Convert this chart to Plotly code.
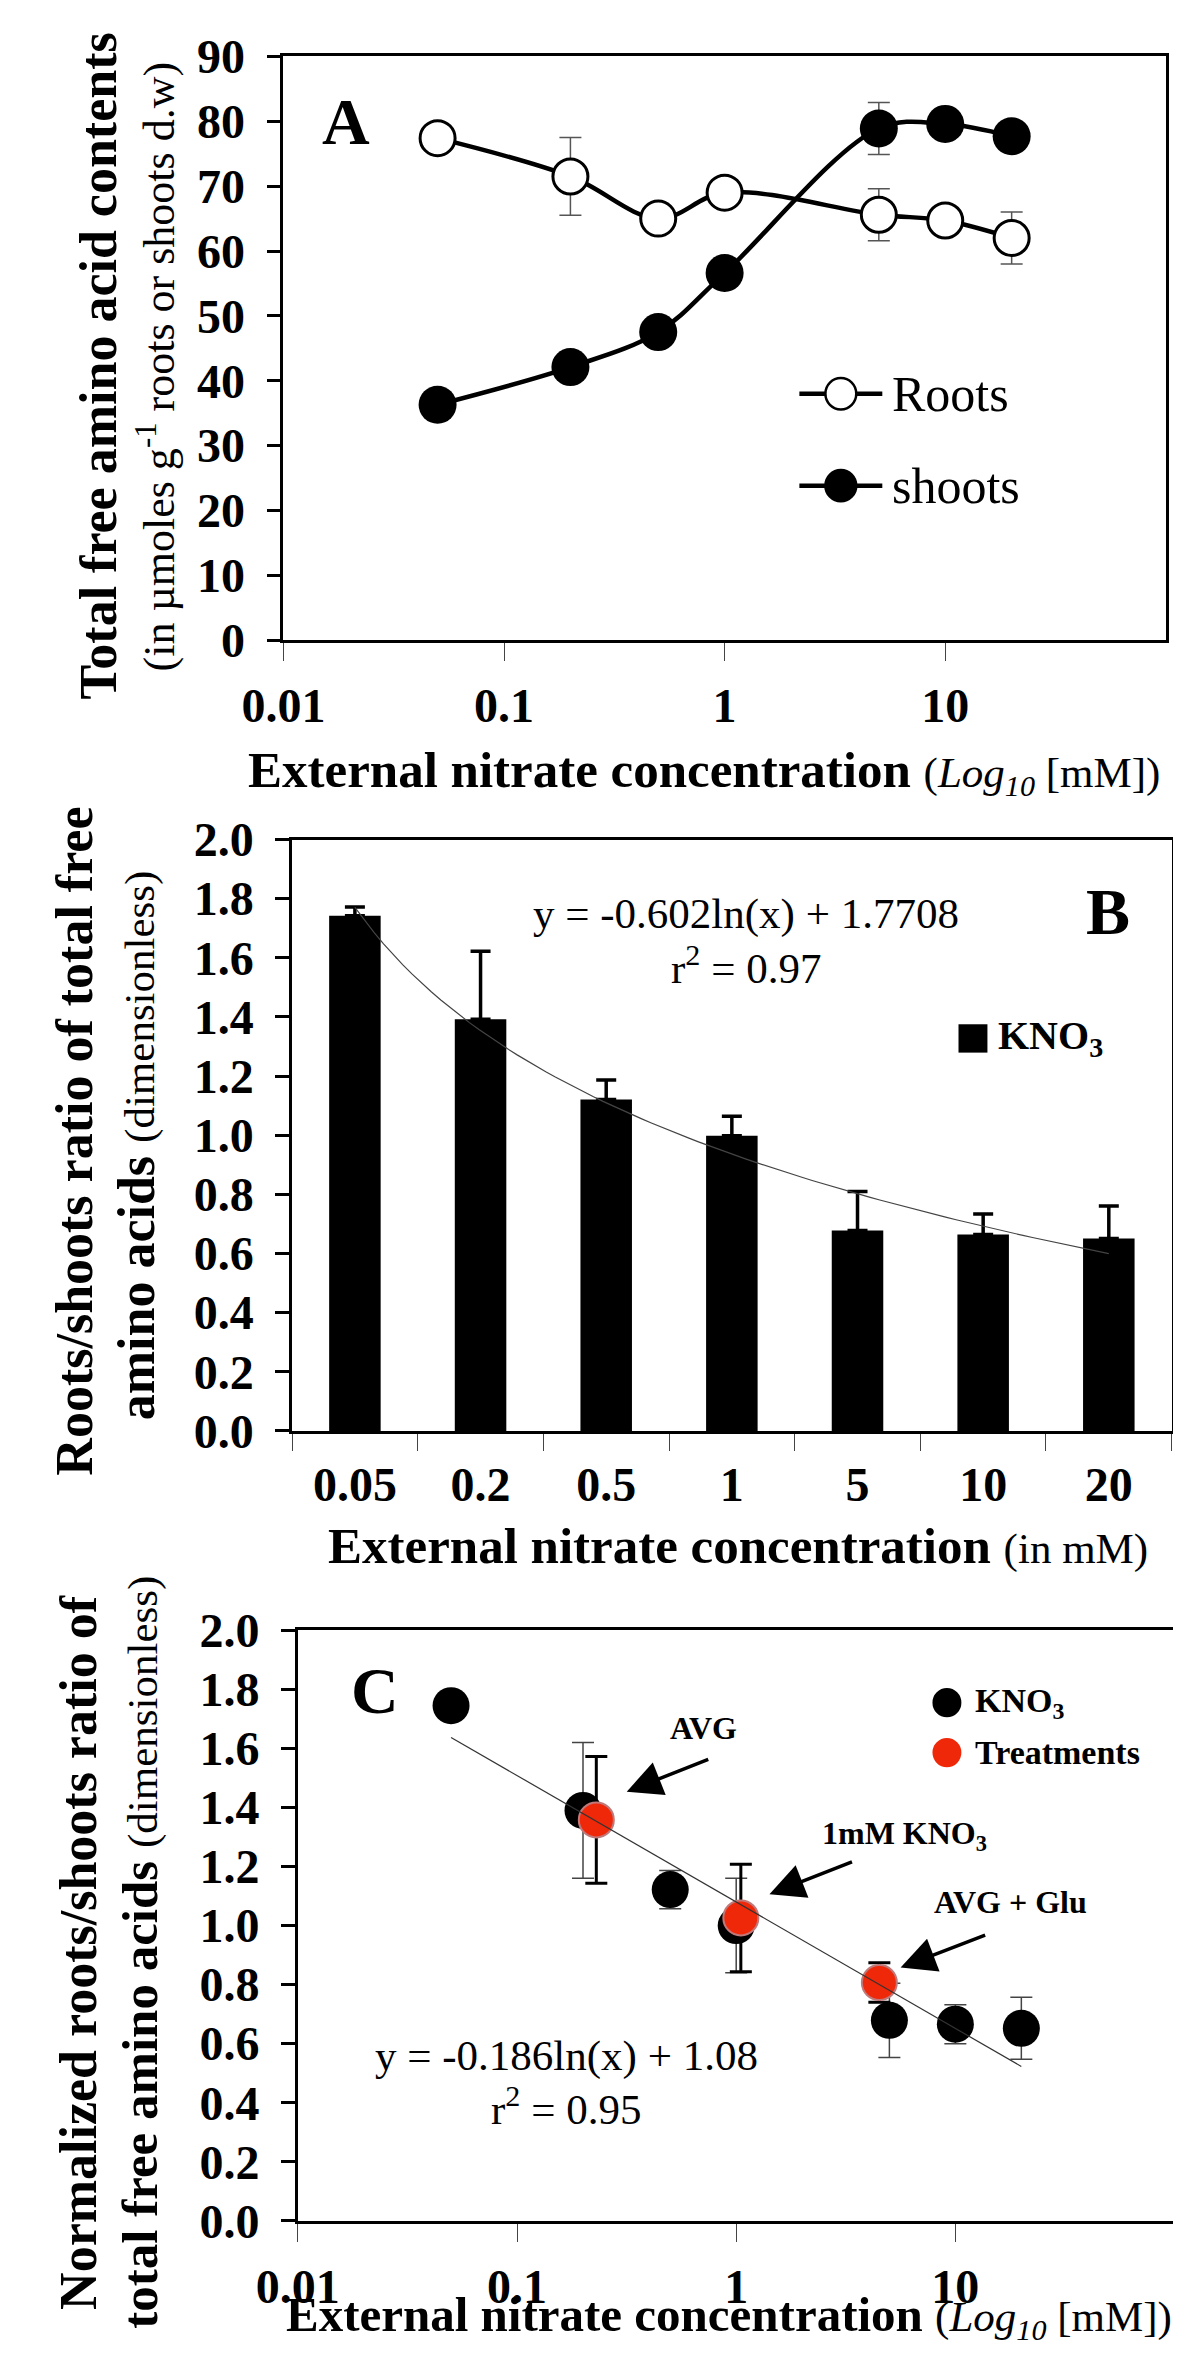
import numpy as np
import plotly.graph_objects as go

# ---- data ----
conc = [0.05, 0.2, 0.5, 1, 5, 10, 20]
conc_labels = ['0.05', '0.2', '0.5', '1', '5', '10', '20']

# panel A : total free amino acids (umol / g d.w)
roots = [77.4, 71.5, 65.0, 69.0, 65.6, 64.7, 62.0]
roots_err = [0, 6.0, 0, 0, 4.0, 0, 4.0]
shoots = [36.3, 42.1, 47.5, 56.6, 78.9, 79.6, 77.7]
shoots_err = [0, 0, 0, 0, 4.0, 0, 0]

# panel B : roots/shoots ratio
ratio = [1.742, 1.392, 1.121, 0.998, 0.678, 0.664, 0.651]
ratio_err = [0.03, 0.23, 0.066, 0.066, 0.132, 0.07, 0.11]
fitB = (-0.602, 1.7708)   # y = a ln(x) + b, x = category rank

# panel C : normalized ratio, KNO3 series and treatments
norm_kno3 = [1.745, 1.39, 1.122, 1.0, 0.679, 0.666, 0.652]
norm_kno3_err = [0.03, 0.23, 0.065, 0.16, 0.126, 0.066, 0.105]
treat_x = [0.23, 1.05, 4.5]
treat_y = [1.358, 1.026, 0.807]
treat_err = [0.215, 0.182, 0.067]
fitC = (-0.186, 1.08)

W, H = 1181, 2362
FONT = 'Liberation Serif'
RED = '#f0280a'


def X(p):
	return p / W


def Y(p):
	return 1 - p / H


fig = go.Figure()

#Panel A
fig.add_trace(go.Scatter(x=conc, y=roots, mode='lines+markers', xaxis='x', yaxis='y',
	line=dict(color='black', width=4.5, shape='spline', smoothing=1),
	marker=dict(symbol='circle', size=35, color='white', line=dict(color='black', width=3)),
	error_y=dict(type='data', array=roots_err, color='#555', thickness=1.5, width=11)))
fig.add_trace(go.Scatter(x=conc, y=shoots, mode='lines+markers', xaxis='x', yaxis='y',
	line=dict(color='black', width=4.5, shape='spline', smoothing=1),
	marker=dict(symbol='circle', size=38, color='black'),
	error_y=dict(type='data', array=shoots_err, color='#555', thickness=1.5, width=11)))

#Panel B : bars on a numeric rank axis so the fitted curve can share it
rank = list(range(1, len(conc) + 1))
xs = np.linspace(1, 7, 80)
fig.add_trace(go.Scatter(x=xs, y=fitB[0] * np.log(xs) + fitB[1], mode='lines',
	xaxis='x2', yaxis='y2', line=dict(color='#444', width=1.2)))
fig.add_trace(go.Bar(x=rank, y=ratio, width=0.41, xaxis='x2', yaxis='y2',
	marker=dict(color='black', line=dict(width=0)),
	error_y=dict(type='data', array=ratio_err, arrayminus=[0] * 7, symmetric=False,
		color='black', thickness=3.5, width=10)))

#Panel C
fig.add_trace(go.Scatter(x=conc, y=norm_kno3, mode='markers', xaxis='x3', yaxis='y3',
	marker=dict(size=37, color='black'),
	error_y=dict(type='data', array=norm_kno3_err, color='#444', thickness=1.5, width=11)))
fig.add_trace(go.Scatter(x=treat_x, y=treat_y, mode='markers', xaxis='x3', yaxis='y3',
	marker=dict(size=35, color=RED, line=dict(color='#c07878', width=2)),
	error_y=dict(type='data', array=treat_err, color='black', thickness=3, width=11)))
cx = [conc[0], conc[-1]]
fig.add_trace(go.Scatter(x=cx, y=[fitC[0] * np.log(v) + fitC[1] for v in cx], mode='lines',
	xaxis='x3', yaxis='y3', line=dict(color='#333', width=1.2)))

tickfont = dict(family=FONT, size=48, color='black', weight='bold')
axis_common = dict(showgrid=False, zeroline=False, showline=True, linecolor='black',
	linewidth=2.5, mirror=True, tickfont=tickfont)
log_x = dict(type='log', range=[-2, 2], tickvals=[0.01, 0.1, 1, 10],
	ticktext=['0.01', '0.1', '1', '10'], ticks='outside', ticklen=18, tickwidth=1,
	tickcolor='#444', ticklabelstandoff=4, **axis_common)
y_common = dict(ticks='outside', ticklen=14, tickwidth=2.5, tickcolor='black',
	ticklabelstandoff=12, **axis_common)

fig.update_layout(
	width=W, height=H, autosize=False, showlegend=False,
	margin=dict(l=0, r=0, t=0, b=0), plot_bgcolor='white', paper_bgcolor='white',
	xaxis=dict(domain=[X(242), X(1157)], anchor='y', **log_x),
	yaxis=dict(domain=[Y(620), Y(23)], anchor='x', range=[0, 90], dtick=10, **y_common),
	xaxis2=dict(domain=[X(251), X(1163)], anchor='y2', range=[0.5, 7.5],
		tickvals=rank, ticktext=conc_labels, ticks='', ticklabelstandoff=10,
		minor=dict(tickvals=[r - 0.5 for r in rank] + [7.5], ticks='outside', ticklen=17,
			tickwidth=1, tickcolor='#444'), **axis_common),
	yaxis2=dict(domain=[Y(1429), Y(824)], anchor='x2', range=[0, 2], dtick=0.2,
		tickformat='.1f', **y_common),
	xaxis3=dict(domain=[X(257), X(1166)], anchor='y3', **log_x),
	yaxis3=dict(domain=[Y(2237), Y(1633)], anchor='x3', range=[0, 2], dtick=0.2,
		tickformat='.1f', **y_common),
)

ann = []


def text(x, y, s, size, bold=False, angle=0, xanchor='center'):
	ann.append(dict(x=X(x), y=Y(y), xref='paper', yref='paper', text=s, showarrow=False,
		textangle=angle, xanchor=xanchor, yanchor='middle', borderpad=0,
		font=dict(family=FONT, size=size, color='black', weight='bold' if bold else 'normal')))


def arrow(hx, hy, tx, ty):
	ann.append(dict(x=X(hx), y=Y(hy), xref='paper', yref='paper', text='', showarrow=True,
		ax=tx - hx, ay=ty - hy, arrowhead=2, arrowsize=2, arrowwidth=3.5,
		arrowcolor='black'))


small = "<span style='font-size:43px'>"

#axis titles
text(50, 340, 'Total free amino acid contents', 52, bold=True, angle=-90)
text(110, 340, '(in µmoles g<sup>-1</sup> roots or shoots d.w)', 44, angle=-90)
text(678, 755, '<b>External nitrate concentration</b> ' + small
	+ '(<i>Log</i><sub><i>10</i></sub> [mM])</span>', 51)
text(26, 1133, 'Roots/shoots ratio of total free', 52, bold=True, angle=-90)
text(90, 1137, '<b>amino acids</b> ' + small + '(dimensionless)</span>', 52, angle=-90)
text(713, 1547, '<b>External nitrate concentration</b> ' + small + '(in mM)</span>', 51)
text(30, 1962, 'Normalized roots/shoots ratio of', 52, bold=True, angle=-90)
text(93, 1962, '<b>total free amino acids</b> ' + small + '(dimensionless)</span>', 51,
	angle=-90)
text(704, 2335, '<b>External nitrate concentration</b> ' + small
	+ '(<i>Log</i><sub><i>10</i></sub> [mM])</span>', 49)

#panel letters
text(307, 89, 'A', 66, bold=True)
text(1097, 898, 'B', 66, bold=True)
text(337, 1695, 'C', 66, bold=True)

#fit equations
text(722, 900, 'y = -0.602ln(x) + 1.7708', 43)
text(722, 952, 'r<sup>2</sup> = 0.97', 43)
text(536, 2068, 'y = -0.186ln(x) + 1.08', 43)
text(535, 2120, 'r<sup>2</sup> = 0.95', 43)

#treatment labels and arrows
text(678, 1733, 'AVG', 32, bold=True)
text(886, 1843, '1mM KNO<sub>3</sub>', 32, bold=True)
text(996, 1911, 'AVG + Glu', 32, bold=True)
arrow(598, 1798, 681, 1765)
arrow(746, 1903, 830, 1870)
arrow(882, 1978, 968, 1945)

#legends
shapes = []
for yy, fill, label in [(368, 'white', 'Roots'), (462, 'black', 'shoots')]:
	shapes.append(dict(type='line', xref='paper', yref='paper', x0=X(777), x1=X(863),
		y0=Y(yy), y1=Y(yy), line=dict(color='black', width=4.5)))
	shapes.append(dict(type='circle', xref='paper', yref='paper', x0=X(804), x1=X(836),
		y0=Y(yy + 16), y1=Y(yy - 16), fillcolor=fill, line=dict(color='black', width=2.5)))
	text(872, yy, label, 50, xanchor='left')

shapes.append(dict(type='rect', xref='paper', yref='paper', x0=X(942), x1=X(972),
	y0=Y(1042), y1=Y(1013), fillcolor='black', line=dict(width=0)))
text(982, 1027, 'KNO<sub>3</sub>', 40, bold=True, xanchor='left')

for yy, col, label in [(1707, 'black', 'KNO<sub>3</sub>'), (1758, RED, 'Treatments')]:
	shapes.append(dict(type='circle', xref='paper', yref='paper', x0=X(915), x1=X(945),
		y0=Y(yy + 15), y1=Y(yy - 15), fillcolor=col, line=dict(width=0)))
	text(958, yy, label, 34, bold=True, xanchor='left')

fig.update_layout(annotations=ann, shapes=shapes)
fig.write_html('out.html')
